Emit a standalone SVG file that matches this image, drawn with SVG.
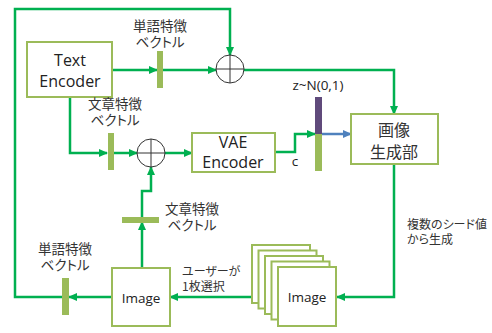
<svg xmlns="http://www.w3.org/2000/svg" width="492" height="333" viewBox="0 0 492 333">
<defs>
<style>
.box{fill:#fff;stroke:#9bbb59;stroke-width:2}
.bar{fill:#9bbb59}
.ln{fill:none;stroke:#00b050;stroke-width:2.5}
.bl{fill:none;stroke:#4f81bd;stroke-width:2.5}
.sum{fill:#fff;stroke:#333;stroke-width:1}
.t{font-family:"Open Sans","Noto Sans CJK JP",sans-serif;fill:#222;text-anchor:middle;font-weight:400}
.j{font-family:"Noto Sans CJK JP",sans-serif;font-feature-settings:"palt";fill:#333}
.en{font-size:16px}
.im{font-size:13.5px}
.jp{font-size:13.5px}
.sm{font-size:12px}
.l{text-anchor:start}
</style>
<marker id="ag" markerUnits="userSpaceOnUse" markerWidth="9" markerHeight="8" refX="8" refY="4" orient="auto"><path d="M0,0 L9,4 L0,8 z" fill="#00b050"/></marker>
<marker id="ab" markerUnits="userSpaceOnUse" markerWidth="9" markerHeight="8" refX="8" refY="4" orient="auto"><path d="M0,0 L9,4 L0,8 z" fill="#4f81bd"/></marker>
</defs>
<g id="connectors">
<polyline class="ln" points="112,70 157,70" marker-end="url(#ag)"/>
<polyline class="ln" points="163,70 216,70" marker-end="url(#ag)"/>
<polyline class="ln" points="62,297 15,297 15,9 230,9 230,55" marker-end="url(#ag)"/>
<polyline class="ln" points="244,70 394,70 394,114" marker-end="url(#ag)"/>
<polyline class="ln" points="70,97 70,153 107,153" marker-end="url(#ag)"/>
<polyline class="ln" points="114,153 137,153" marker-end="url(#ag)"/>
<polyline class="ln" points="165,153 192,153" marker-end="url(#ag)"/>
<polyline class="ln" points="275,152 295,152 295,134 315,134" marker-end="url(#ag)"/>
<polyline class="bl" points="322,134 351,134" marker-end="url(#ab)"/>
<polyline class="ln" points="394,164 394,297 337,297" marker-end="url(#ag)"/>
<polyline class="ln" points="252,297 170,297" marker-end="url(#ag)"/>
<polyline class="ln" points="112,297 69,297" marker-end="url(#ag)"/>
<polyline class="ln" points="142,268 142,222" marker-end="url(#ag)"/>
<polyline class="ln" points="142,217 142,191 151,191 151,167" marker-end="url(#ag)"/>
</g>
<g id="text-encoder">
<rect class="box" x="27" y="42" width="85" height="55"/>
<text class="t en"><tspan x="70" y="66">Text</tspan><tspan x="70" y="87">Encoder</tspan></text>
</g>
<g id="word-vec-1">
<rect class="bar" x="157" y="51" width="6" height="37"/>
<text class="t j jp"><tspan x="160" y="31">単語特徴</tspan><tspan x="160" y="47">ベクトル</tspan></text>
</g>
<g id="sum-1">
<circle class="sum" cx="230" cy="69" r="14"/>
<path class="sum" d="M216,69 H244 M230,55 V83"/>
</g>
<g id="sent-vec-1">
<rect class="bar" x="108" y="133" width="6" height="37"/>
<text class="t j jp"><tspan x="115" y="109">文章特徴</tspan><tspan x="115" y="125">ベクトル</tspan></text>
</g>
<g id="sum-2">
<circle class="sum" cx="151" cy="153" r="14"/>
<path class="sum" d="M137,153 H165 M151,139 V167"/>
</g>
<g id="vae-encoder">
<rect class="box" x="192" y="133" width="83" height="39"/>
<text class="t en"><tspan x="233" y="148">VAE</tspan><tspan x="233" y="168">Encoder</tspan></text>
</g>
<g id="c-label">
<text class="t jp" x="295" y="166">c</text>
</g>
<g id="z-vec">
<rect x="315" y="97" width="7" height="37" fill="#604a7b"/>
<rect class="bar" x="315" y="134" width="7" height="37"/>
<text class="t jp" x="318" y="90">z~N(0,1)</text>
</g>
<g id="image-generator">
<rect class="box" x="351" y="114" width="87" height="50"/>
<text class="t j en"><tspan x="394" y="136">画像</tspan><tspan x="394" y="158">生成部</tspan></text>
</g>
<g id="gen-label">
<text class="t j sm l"><tspan x="407" y="229">複数のシード値</tspan><tspan x="407" y="244">から生成</tspan></text>
</g>
<g id="image-stack">
<rect class="box" x="252" y="245" width="58" height="58"/>
<rect class="box" x="258.5" y="250.5" width="58" height="58"/>
<rect class="box" x="265" y="256" width="58" height="58"/>
<rect class="box" x="271.5" y="261.5" width="58" height="58"/>
<rect class="box" x="278" y="267" width="58" height="59"/>
<text class="t im" x="307" y="302">Image</text>
</g>
<g id="select-label">
<text class="t j sm l"><tspan x="182" y="276">ユーザーが</tspan><tspan x="182" y="291">1枚選択</tspan></text>
</g>
<g id="image-selected">
<rect class="box" x="112" y="268" width="58" height="58"/>
<text class="t im" x="141" y="303">Image</text>
</g>
<g id="word-vec-2">
<rect class="bar" x="62" y="278" width="7" height="37"/>
<text class="t j jp"><tspan x="65" y="254">単語特徴</tspan><tspan x="65" y="270">ベクトル</tspan></text>
</g>
<g id="sent-vec-2">
<rect class="bar" x="122" y="217" width="37" height="6"/>
<text class="t j jp"><tspan x="192" y="214">文章特徴</tspan><tspan x="192" y="230">ベクトル</tspan></text>
</g>
</svg>
